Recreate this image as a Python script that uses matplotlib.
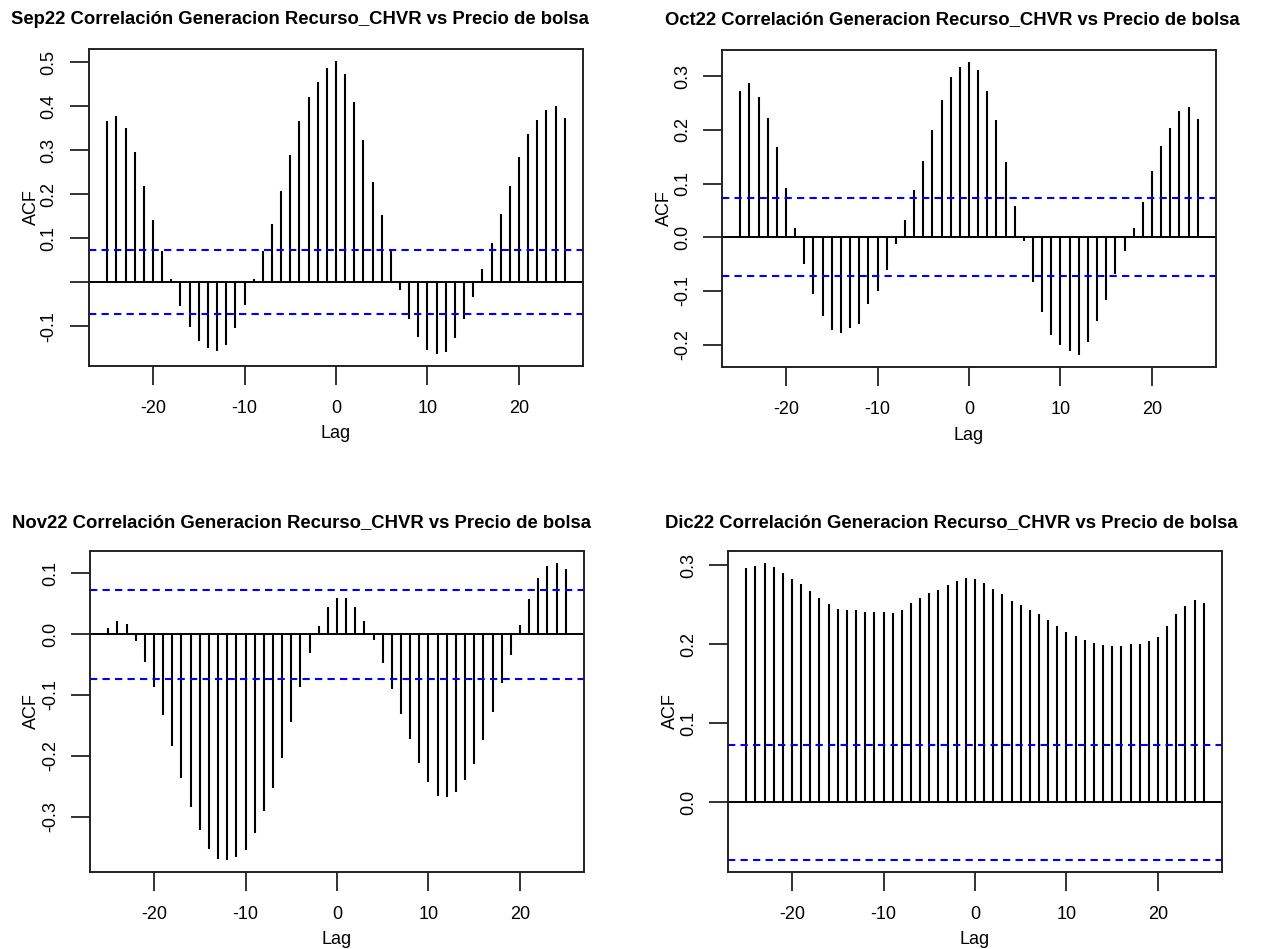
import numpy as np
import matplotlib
matplotlib.use('Agg')
import matplotlib.pyplot as plt

plt.rcParams['font.family'] = ['Liberation Sans', 'DejaVu Sans']

lags = np.arange(-25, 26)
conf = 0.073

# ACF values, lag -25 ... 25
acf_sep = [0.366, 0.378, 0.352, 0.297, 0.220, 0.141, 0.071, 0.008, -0.055, -0.101,
           -0.133, -0.150, -0.156, -0.143, -0.104, -0.053, 0.008, 0.071, 0.132, 0.208,
           0.290, 0.366, 0.421, 0.456, 0.488, 0.504, 0.474, 0.409, 0.323, 0.227,
           0.152, 0.073, -0.017, -0.084, -0.124, -0.154, -0.164, -0.158, -0.128, -0.084,
           -0.034, 0.030, 0.090, 0.156, 0.220, 0.286, 0.337, 0.370, 0.392, 0.402, 0.374]
acf_oct = [0.273, 0.288, 0.261, 0.223, 0.169, 0.091, 0.017, -0.049, -0.106, -0.146,
           -0.173, -0.178, -0.170, -0.161, -0.124, -0.100, -0.062, -0.012, 0.032, 0.088,
           0.142, 0.199, 0.255, 0.299, 0.317, 0.327, 0.311, 0.272, 0.218, 0.141,
           0.058, -0.007, -0.083, -0.140, -0.183, -0.201, -0.212, -0.220, -0.196, -0.156,
           -0.117, -0.068, -0.025, 0.017, 0.066, 0.124, 0.170, 0.204, 0.236, 0.243, 0.220]
acf_nov = [0.010, 0.022, 0.016, -0.011, -0.045, -0.087, -0.132, -0.183, -0.236, -0.284,
           -0.321, -0.352, -0.369, -0.371, -0.366, -0.354, -0.326, -0.291, -0.252, -0.203,
           -0.145, -0.086, -0.031, 0.014, 0.045, 0.060, 0.059, 0.044, 0.021, -0.009,
           -0.048, -0.090, -0.131, -0.172, -0.211, -0.243, -0.265, -0.267, -0.259, -0.240,
           -0.213, -0.174, -0.128, -0.081, -0.034, 0.015, 0.058, 0.092, 0.112, 0.117, 0.107]
acf_dic = [0.296, 0.299, 0.303, 0.298, 0.290, 0.282, 0.276, 0.267, 0.259, 0.251,
           0.245, 0.243, 0.243, 0.241, 0.241, 0.241, 0.239, 0.244, 0.252, 0.259,
           0.265, 0.269, 0.275, 0.280, 0.284, 0.282, 0.277, 0.270, 0.264, 0.255,
           0.250, 0.244, 0.238, 0.231, 0.223, 0.216, 0.210, 0.206, 0.202, 0.199,
           0.198, 0.198, 0.200, 0.201, 0.204, 0.209, 0.223, 0.238, 0.249, 0.256, 0.252]

titles = ['Sep22 Correlación Generacion Recurso_CHVR vs Precio de bolsa',
          'Oct22 Correlación Generacion Recurso_CHVR vs Precio de bolsa',
          'Nov22 Correlación Generacion Recurso_CHVR vs Precio de bolsa',
          'Dic22 Correlación Generacion Recurso_CHVR vs Precio de bolsa']
yticks_list = [[-0.1, 0.0, 0.1, 0.2, 0.3, 0.4, 0.5],
               [-0.2, -0.1, 0.0, 0.1, 0.2, 0.3],
               [-0.3, -0.2, -0.1, 0.0, 0.1],
               [0.0, 0.1, 0.2, 0.3]]
xticks = [-20, -10, 0, 10, 20]
series = [acf_sep, acf_oct, acf_nov, acf_dic]

W, H = 1263, 949
# panel boxes in pixels: left, right, top, bottom
boxes = [(89, 583, 49, 366), (722, 1216, 50, 367),
         (90, 584, 551, 872), (728, 1222, 551, 872)]
title_pos = [(300, 20), (952, 20), (301, 523), (951, 523)]
ylab_x = [31, 664, 31, 670]

fig = plt.figure(figsize=(W / 100, H / 100), dpi=100)

for i in range(4):
    l, r, t, b = boxes[i]
    ax = fig.add_axes([l / W, 1 - b / H, (r - l) / W, (b - t) / H])
    vals = np.array(series[i])
    ax.vlines(lags, 0, vals, color='black', lw=1.5)
    ax.axhline(0, color='black', lw=1.4)
    ax.axhline(conf, color='#0000FF', lw=1.5, ls=(0, (3.5, 2.5)))
    ax.axhline(-conf, color='#0000FF', lw=1.5, ls=(0, (3.5, 2.5)))

    lo = min(vals.min(), -conf)
    hi = max(vals.max(), conf)
    pad = 0.04 * (hi - lo)
    ax.set_ylim(lo - pad, hi + pad)
    ax.set_xlim(-27, 27)

    ax.set_xticks(xticks)
    ax.set_xticklabels([str(x) for x in xticks])
    yt = yticks_list[i]
    ax.set_yticks(yt)
    labels = ['%.1f' % v for v in yt]
    if i == 0:
        labels[1] = ''
    ax.set_yticklabels(labels, rotation=90, va='center')
    ax.tick_params(axis='both', length=13.5, width=1.3, labelsize=13, color='#222222')
    ax.tick_params(axis='x', pad=11)
    ax.tick_params(axis='y', pad=9)
    for s in ax.spines.values():
        s.set_linewidth(1.4)
        s.set_color('#222222')

    fig.text(title_pos[i][0] / W, 1 - title_pos[i][1] / H, titles[i],
             ha='center', va='center', fontsize=13.3, fontweight='bold')
    fig.text(ylab_x[i] / W, 1 - ((t + b) / 2) / H, 'ACF', rotation=90,
             ha='center', va='center', fontsize=13)
    fig.text(((l + r) / 2) / W, 1 - (b + 68) / H, 'Lag',
             ha='center', va='center', fontsize=13)

fig.savefig('out.png', dpi=100)
